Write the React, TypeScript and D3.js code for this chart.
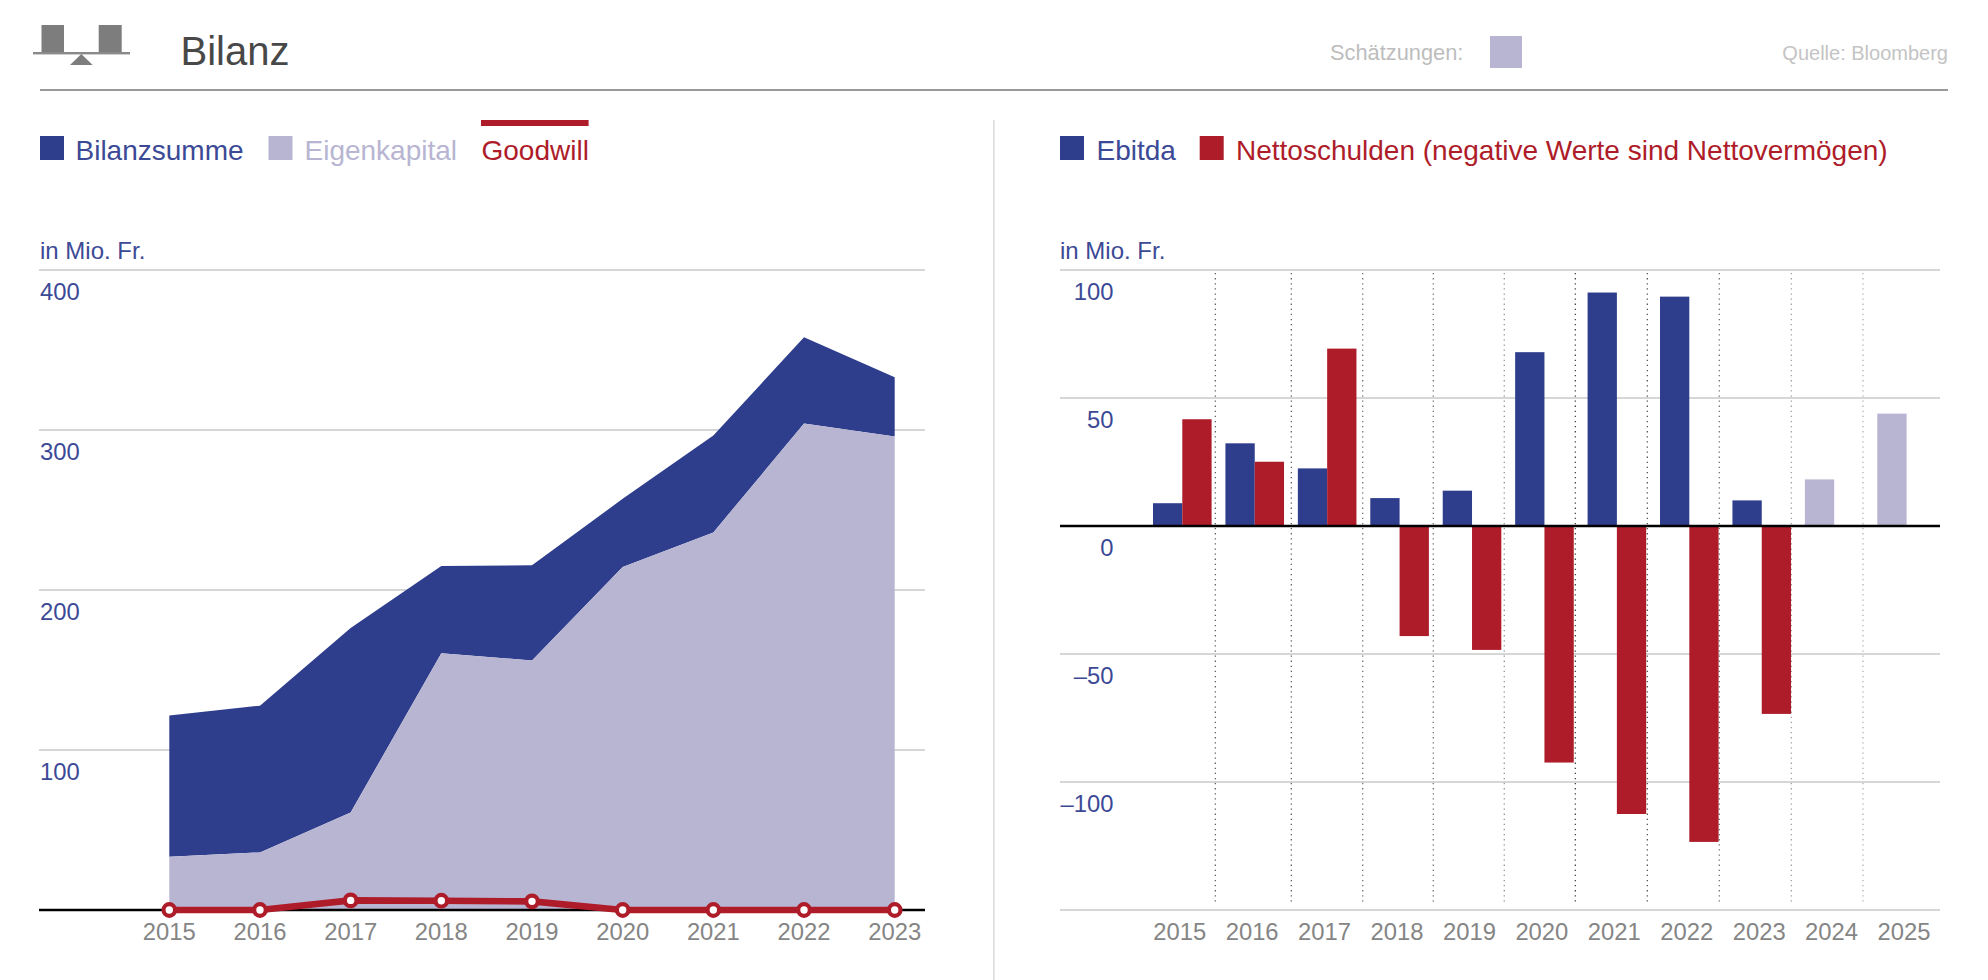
import React, { useEffect, useRef } from "react";
import * as d3 from "d3";

const BLUE = "#2e3d8c";
const BLUE_TEXT = "#3c4a96";
const LIGHT = "#b8b5d2";
const RED = "#ae1c2a";
const GRID = "#d6d6d6";
const FONT = "'Liberation Sans', Arial, sans-serif";

const balanceYears = ["2015", "2016", "2017", "2018", "2019", "2020", "2021", "2022", "2023"];
const bilanzsumme = [121.5, 127.7, 176.2, 215, 215.4, 257, 296.5, 358, 333];
const eigenkapital = [33.3, 36, 61, 160.4, 156, 214.4, 236, 304, 296];
const goodwill = [0, 0, 6, 5.8, 5.4, 0, 0, 0, 0];
const balanceTicks = [0, 100, 200, 300, 400];

const flowYears = ["2015", "2016", "2017", "2018", "2019", "2020", "2021", "2022", "2023", "2024", "2025"];
const ebitda = [8.9, 32.3, 22.5, 10.9, 13.8, 67.9, 91.2, 89.6, 10, 18.2, 43.9];
const nettoschulden = [41.7, 25.1, 69.3, -43, -48.4, -92.4, -112.5, -123.4, -73.4, null, null];
const estimateYears = ["2024", "2025"];
const flowTicks = [-150, -100, -50, 0, 50, 100];
// dotted separators, in year units, as they sit in the picture
const separators = [2015.456, 2016.505, 2017.491, 2018.465, 2019.445, 2020.426, 2021.42, 2022.414, 2023.408, 2024.398];
const separatorShades = ["#555", "#555", "#666", "#666", "#888", "#333", "#444", "#666", "#999", "#aaa"];

const styleAxis = (g: any, opts: { labelX: number; anchor: string; hide: number[] }) => {
  g.select(".domain").remove();
  g.selectAll(".tick line").attr("stroke", GRID).attr("stroke-width", 2);
  g.selectAll(".tick text")
    .attr("x", opts.labelX)
    .attr("y", 29.5)
    .attr("dy", 0)
    .attr("text-anchor", opts.anchor)
    .attr("fill", BLUE_TEXT)
    .style("font-size", "23.8px")
    .style("font-family", FONT)
    .style("display", (d: number) => (opts.hide.includes(d) ? "none" : null));
};

const styleYears = (g: any) => {
  g.select(".domain").remove();
  g.selectAll(".tick line").remove();
  g.selectAll(".tick text")
    .attr("y", 0)
    .attr("dy", 0)
    .attr("fill", "#858585")
    .style("font-size", "23.8px")
    .style("font-family", FONT);
};

const App = (): JSX.Element => {
  const ref = useRef<SVGSVGElement>(null);

  useEffect(() => {
    const svg = d3.select(ref.current);
    svg.selectAll("*").remove();

    const label = (x: number, y: number, text: string, fill: string, size: number, anchor = "start") =>
      svg
        .append("text")
        .attr("x", x)
        .attr("y", y)
        .attr("fill", fill)
        .attr("text-anchor", anchor)
        .style("font-size", `${size}px`)
        .style("font-family", FONT)
        .text(text);
    const box = (x: number, y: number, w: number, h: number, fill: string) =>
      svg.append("rect").attr("x", x).attr("y", y).attr("width", w).attr("height", h).attr("fill", fill);

    // header
    box(41.5, 25, 22.5, 27, "#7d7d7d");
    box(98.7, 25, 23, 27, "#7d7d7d");
    box(33, 52, 97, 2.4, "#8a8a8a");
    svg.append("path").attr("d", "M81.3 54L92.7 65H70Z").attr("fill", "#7d7d7d");
    label(180.5, 65, "Bilanz", "#484848", 40);
    label(1330, 60, "Schätzungen:", "#bdbdbd", 21.8);
    box(1490, 36, 32, 32, LIGHT);
    label(1948, 60, "Quelle: Bloomberg", "#c4c4c4", 20, "end");
    box(40, 89, 1908, 2, "#999");
    box(993, 120, 1.6, 860, "#ddd");

    // legends
    box(40, 136, 24, 24, BLUE);
    label(75.5, 160, "Bilanzsumme", BLUE_TEXT, 28);
    box(268.5, 136, 24, 24, LIGHT);
    label(304.5, 160, "Eigenkapital", LIGHT, 28);
    box(481, 120, 107.6, 6, RED);
    label(481.5, 160, "Goodwill", RED, 28);
    box(1060, 136, 24, 24, BLUE);
    label(1096.5, 160, "Ebitda", BLUE_TEXT, 28);
    box(1199.7, 136, 24, 24, RED);
    label(1236, 160, "Nettoschulden (negative Werte sind Nettovermögen)", RED, 28);
    label(40, 259, "in Mio. Fr.", BLUE_TEXT, 24);
    label(1060, 259, "in Mio. Fr.", BLUE_TEXT, 24);

    // left chart
    const xBalance = d3.scalePoint().domain(balanceYears).range([169.3, 894.7]);
    const yBalance = d3.scaleLinear().domain([0, 400]).range([910, 270]);
    const balanceX = (_: number, i: number) => xBalance(balanceYears[i]) as number;

    svg
      .append("g")
      .attr("transform", "translate(39,0)")
      .call(d3.axisLeft(yBalance).tickValues(balanceTicks).tickSize(-886).offset(0) as any)
      .call(styleAxis, { labelX: 1, anchor: "start", hide: [0] });

    const blueArea = d3
      .area<number>()
      .x(balanceX)
      .y0((_, i) => yBalance(eigenkapital[i]))
      .y1((d) => yBalance(d));
    const lightArea = d3.area<number>().x(balanceX).y0(yBalance(0)).y1((d) => yBalance(d));
    svg.append("path").attr("d", blueArea(bilanzsumme)).attr("fill", BLUE);
    svg.append("path").attr("d", lightArea(eigenkapital)).attr("fill", LIGHT);

    svg
      .append("line")
      .attr("x1", 39)
      .attr("x2", 925)
      .attr("y1", yBalance(0))
      .attr("y2", yBalance(0))
      .attr("stroke", "#000")
      .attr("stroke-width", 2.4);

    svg
      .append("g")
      .attr("transform", "translate(0,940)")
      .call(d3.axisBottom(xBalance).offset(0) as any)
      .call(styleYears);

    svg
      .append("path")
      .attr("d", d3.line<number>().x(balanceX).y((d) => yBalance(d))(goodwill))
      .attr("fill", "none")
      .attr("stroke", RED)
      .attr("stroke-width", 6.6);
    svg
      .selectAll("circle")
      .data(goodwill)
      .join("circle")
      .attr("cx", balanceX)
      .attr("cy", (d) => yBalance(d))
      .attr("r", 5.8)
      .attr("fill", "#fff")
      .attr("stroke", RED)
      .attr("stroke-width", 4.2);

    // right chart
    const xFlow = d3.scaleBand().domain(flowYears).range([1153, 1935.9]).paddingInner(0.191).paddingOuter(0);
    const yFlow = d3.scaleLinear().domain([-150, 100]).range([910, 270]);
    const half = xFlow.bandwidth() / 2;
    const xYear = d3.scaleLinear().domain([2015, 2025]).range([
      (xFlow("2015") as number) + half,
      (xFlow("2025") as number) + half,
    ]);

    svg
      .append("g")
      .attr("transform", "translate(1060,0)")
      .call(
        d3
          .axisLeft(yFlow)
          .tickValues(flowTicks)
          .tickSize(-880)
          .offset(0)
          .tickFormat((d) => String(d).replace("-", "–")) as any,
      )
      .call(styleAxis, { labelX: 53.5, anchor: "end", hide: [-150] });

    svg
      .append("g")
      .selectAll("line")
      .data(separators)
      .join("line")
      .attr("x1", (d) => xYear(d))
      .attr("x2", (d) => xYear(d))
      .attr("y1", 273)
      .attr("y2", 904)
      .attr("stroke", (_, i) => separatorShades[i])
      .attr("stroke-width", 1.2)
      .attr("stroke-dasharray", "1.3 3.8");

    const bars = (values: (number | null)[], dx: number, fill: (year: string) => string) =>
      svg
        .append("g")
        .selectAll("rect")
        .data(flowYears.filter((_, i) => values[i] !== null))
        .join("rect")
        .attr("x", (d) => (xFlow(d) as number) + dx)
        .attr("width", half)
        .attr("y", (d) => yFlow(Math.max(0, values[flowYears.indexOf(d)] as number)))
        .attr("height", (d) => Math.abs(yFlow(values[flowYears.indexOf(d)] as number) - yFlow(0)))
        .attr("fill", fill);
    bars(ebitda, 0, (d) => (estimateYears.includes(d) ? LIGHT : BLUE));
    bars(nettoschulden, half, () => RED);

    svg
      .append("line")
      .attr("x1", 1060)
      .attr("x2", 1940)
      .attr("y1", yFlow(0))
      .attr("y2", yFlow(0))
      .attr("stroke", "#000")
      .attr("stroke-width", 2.6);

    svg
      .append("g")
      .attr("transform", "translate(-2.6,940)")
      .call(d3.axisBottom(xFlow).offset(0) as any)
      .call(styleYears);
  }, []);

  return <svg ref={ref} width={1988} height={980} style={{ position: "absolute", left: 0, top: 0 }} />;
};

export default App;
